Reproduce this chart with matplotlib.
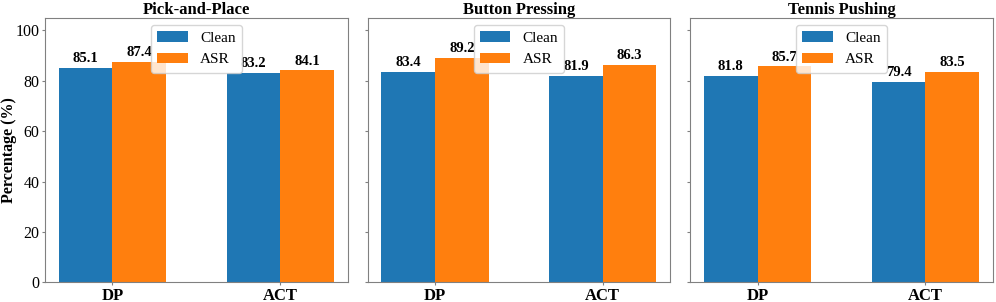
import numpy as np
import matplotlib
matplotlib.use('Agg')
import matplotlib.pyplot as plt

plt.rcParams['font.family'] = ['Liberation Serif', 'DejaVu Serif']

tasks = ['Pick-and-Place', 'Button Pressing', 'Tennis Pushing']
methods = ['DP', 'ACT']
clean = [[85.1, 83.2], [83.4, 81.9], [81.8, 79.4]]
asr = [[87.4, 84.1], [89.2, 86.3], [85.7, 83.5]]

blue = '#1f77b4'
orange = '#ff7f0e'
spine_col = '#808080'

fig, axes = plt.subplots(1, 3, figsize=(9.96, 3.02), dpi=100, sharey=True)
fig.subplots_adjust(left=0.0452, right=0.9967, top=0.9414, bottom=0.0652, wspace=0.066)

x = np.arange(len(methods))
w = 0.32

for i, ax in enumerate(axes):
    b1 = ax.bar(x - w / 2, clean[i], w, color=blue, label='Clean')
    b2 = ax.bar(x + w / 2, asr[i], w, color=orange, label='ASR')
    for bars in (b1, b2):
        ax.bar_label(bars, fmt='%.1f', padding=2, fontsize=10.5, fontweight='bold')
    ax.set_title(tasks[i], fontsize=12, fontweight='bold', pad=3)
    ax.set_xticks(x)
    ax.set_xticklabels(methods, fontsize=12, fontweight='bold')
    ax.set_ylim(0, 105)
    ax.set_yticks([0, 20, 40, 60, 80, 100])
    ax.tick_params(axis='both', length=2.5, width=0.8, color=spine_col, labelsize=11.5, pad=1.5)
    ax.tick_params(axis='x', labelsize=12, pad=1.5)
    for s in ax.spines.values():
        s.set_color(spine_col)
    ax.legend(loc='upper center', fontsize=11, borderaxespad=0.5, handlelength=2.0)

axes[0].set_ylabel('Percentage (%)', fontsize=11.5, fontweight='bold')
axes[0].yaxis.set_label_coords(-0.092, 0.5)

fig.savefig('out.png', dpi=100)
